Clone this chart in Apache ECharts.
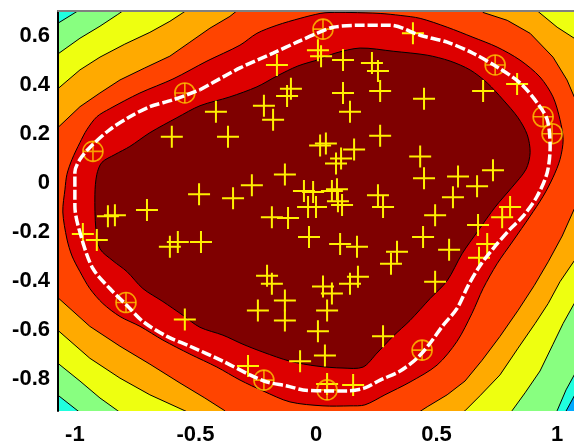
<!DOCTYPE html>
<html>
<head>
<meta charset="utf-8">
<script src="https://cdn.jsdelivr.net/npm/echarts@6/dist/echarts.min.js"></script>
<style>html,body{margin:0;padding:0;background:#fff}#c{width:574px;height:446px}</style>
</head>
<body>
<div id="c"></div>
<script>
// ---- tick labels ----
const xTicks = [-1, -0.5, 0, 0.5, 1];
const yTicks = [-0.8, -0.6, -0.4, -0.2, 0, 0.2, 0.4, 0.6];

// ---- filled contour levels (closed curves, outermost level first) ----
const contour7 = [[-1.3,0.9],[1.3,0.9],[1.3,-0.5],[1.104,-0.809],[1.004,-0.99],[1.0,-1.2],[-1.3,-1.2]];
const contour6 = [[-0.917,0.743],[-0.9,0.9],[1.3,0.9],[1.3,-0.6],[1.095,-0.731],[1.071,-0.783],[1.037,-0.844],[1.0,-0.929],[0.971,-0.99],[0.97,-1.2],[-0.9,-1.2],[-0.909,-0.99],[-1.145,-0.808],[-1.3,-0.8],[-1.3,0.6],[-1.145,0.605]];
const contour5 = [[-0.751,0.735],[-0.75,0.9],[1.3,0.9],[1.3,-0.4],[1.116,-0.411],[1.071,-0.492],[1.025,-0.573],[0.983,-0.658],[0.929,-0.767],[0.867,-0.856],[0.813,-0.929],[0.772,-0.99],[0.77,-1.2],[-0.76,-1.2],[-0.763,-0.974],[-0.822,-0.929],[-0.896,-0.877],[-0.979,-0.808],[-1.066,-0.739],[-1.145,-0.678],[-1.3,-0.67],[-1.3,0.47],[-1.145,0.472],[-1.066,0.528],[-0.979,0.589],[-0.896,0.638],[-0.822,0.686]];
const contour4 = [[-1.145,0.322],[-1.066,0.387],[-0.979,0.46],[-0.896,0.512],[-0.793,0.565],[-0.689,0.613],[-0.606,0.658],[-0.544,0.698],[-0.494,0.731],[0.888,0.731],[0.921,0.698],[1.0,0.634],[1.071,0.589],[1.137,0.549],[1.116,-0.257],[1.071,-0.318],[1.012,-0.403],[0.963,-0.492],[0.909,-0.573],[0.838,-0.674],[0.763,-0.783],[0.68,-0.868],[0.618,-0.929],[0.564,-0.978],[-0.481,-0.958],[-0.544,-0.929],[-0.689,-0.864],[-0.813,-0.796],[-0.938,-0.715],[-1.066,-0.605],[-1.145,-0.545]];
const contour3 = [[-1.145,0.156],[-1.066,0.229],[-0.979,0.31],[-0.896,0.366],[-0.813,0.419],[-0.71,0.468],[-0.606,0.516],[-0.523,0.573],[-0.44,0.63],[-0.357,0.678],[-0.295,0.727],[0.66,0.731],[0.693,0.694],[0.793,0.662],[0.888,0.609],[0.983,0.512],[1.041,0.419],[1.071,0.35],[1.116,0.277],[1.137,0.136],[1.116,-0.026],[1.071,-0.107],[1.021,-0.217],[0.963,-0.322],[0.905,-0.419],[0.838,-0.52],[0.763,-0.626],[0.689,-0.723],[0.618,-0.808],[0.544,-0.864],[0.461,-0.913],[0.39,-0.958],[-0.357,-0.966],[-0.378,-0.929],[-0.461,-0.877],[-0.564,-0.816],[-0.689,-0.739],[-0.813,-0.666],[-0.938,-0.585],[-1.066,-0.472],[-1.145,-0.403]];
const contour2 = [[-1.041,-0.026],[-1.05,-0.119],[-1.033,-0.229],[-1.012,-0.298],[-0.979,-0.362],[-0.938,-0.431],[-0.884,-0.492],[-0.813,-0.545],[-0.73,-0.585],[-0.635,-0.641],[-0.523,-0.698],[-0.411,-0.751],[-0.315,-0.804],[-0.22,-0.848],[-0.108,-0.893],[0.029,-0.909],[0.141,-0.909],[0.203,-0.905],[0.286,-0.864],[0.39,-0.812],[0.502,-0.743],[0.585,-0.646],[0.647,-0.532],[0.693,-0.431],[0.751,-0.33],[0.817,-0.237],[0.888,-0.136],[0.942,-0.055],[0.983,0.022],[1.012,0.095],[1.025,0.176],[1.012,0.257],[0.983,0.35],[0.929,0.431],[0.846,0.5],[0.751,0.553],[0.651,0.593],[0.544,0.634],[0.432,0.67],[0.349,0.682],[0.266,0.69],[0.141,0.694],[0.058,0.694],[0.017,0.69],[-0.066,0.67],[-0.162,0.642],[-0.245,0.609],[-0.315,0.561],[-0.452,0.496],[-0.593,0.423],[-0.73,0.366],[-0.855,0.302],[-0.909,0.269],[-0.95,0.217],[-0.979,0.164],[-1.012,0.095],[-1.033,0.034]];
const contour1 = [[-0.917,-0.047],[-0.909,0.034],[-0.888,0.083],[-0.834,0.115],[-0.772,0.148],[-0.689,0.204],[-0.577,0.265],[-0.481,0.314],[-0.357,0.35],[-0.245,0.391],[-0.162,0.435],[-0.075,0.476],[0.017,0.504],[0.079,0.528],[0.183,0.549],[0.32,0.536],[0.461,0.52],[0.556,0.496],[0.639,0.46],[0.71,0.407],[0.776,0.338],[0.838,0.265],[0.876,0.196],[0.888,0.123],[0.871,0.055],[0.813,-0.018],[0.743,-0.099],[0.672,-0.196],[0.606,-0.289],[0.544,-0.399],[0.473,-0.472],[0.39,-0.561],[0.32,-0.625],[0.253,-0.694],[0.195,-0.751],[0.112,-0.755],[0.004,-0.747],[-0.108,-0.727],[-0.22,-0.69],[-0.303,-0.658],[-0.386,-0.621],[-0.481,-0.589],[-0.552,-0.54],[-0.635,-0.484],[-0.718,-0.431],[-0.784,-0.362],[-0.842,-0.318],[-0.896,-0.269],[-0.913,-0.188]];

// ---- decision boundary (white dashed) ----
const boundary = [[-0.481,0.379],[-0.315,0.468],[-0.178,0.528],[-0.079,0.573],[0.004,0.609],[0.071,0.634],[0.195,0.642],[0.307,0.642],[0.432,0.601],[0.544,0.573],[0.651,0.528],[0.751,0.472],[0.846,0.407],[0.917,0.326],[0.959,0.257],[0.971,0.148],[0.959,0.042],[0.917,-0.055],[0.859,-0.136],[0.805,-0.189],[0.734,-0.269],[0.68,-0.338],[0.631,-0.419],[0.585,-0.512],[0.527,-0.581],[0.473,-0.654],[0.419,-0.715],[0.349,-0.767],[0.266,-0.804],[0.203,-0.836],[0.129,-0.848],[0.029,-0.848],[-0.054,-0.844],[-0.12,-0.828],[-0.203,-0.812],[-0.274,-0.783],[-0.386,-0.727],[-0.523,-0.666],[-0.618,-0.626],[-0.718,-0.565],[-0.784,-0.5],[-0.855,-0.431],[-0.925,-0.35],[-0.971,-0.229],[-1.0,-0.095],[-1.0,0.043],[-0.979,0.095],[-0.938,0.144],[-0.855,0.217],[-0.772,0.269],[-0.689,0.31],[-0.593,0.338]];

// ---- data points ----
const points = [[-0.162,0.48],[-0.104,0.383],[-0.12,0.354],[-0.216,0.314],[-0.178,0.257],[-0.415,0.289],[-0.598,0.188],[-0.365,0.188],[0.008,0.54],[0.021,0.516],[0.112,0.5],[0.232,0.488],[0.257,0.455],[0.402,0.609],[0.834,0.403],[0.693,0.374],[0.112,0.366],[0.266,0.374],[0.448,0.342],[0.141,0.289],[0.266,0.192],[0.017,0.152],[0.041,0.16],[0.158,0.136],[0.083,0.079],[0.104,0.099],[0.432,0.107],[0.448,0.018],[0.589,0.026],[0.734,0.051],[0.668,-0.014],[0.568,-0.059],[0.257,-0.051],[0.066,-0.034],[0.087,-0.026],[-0.012,-0.038],[-0.129,0.034],[-0.266,-0.01],[-0.05,-0.034],[-0.485,-0.047],[-0.344,-0.063],[-0.701,-0.111],[-0.863,-0.136],[-0.834,-0.132],[-0.183,-0.14],[-0.116,-0.144],[-0.033,-0.099],[0.0,-0.099],[-0.909,-0.233],[-0.967,-0.209],[-0.606,-0.261],[-0.573,-0.241],[-0.477,-0.241],[-0.029,-0.221],[-0.203,-0.379],[-0.183,-0.411],[-0.129,-0.48],[-0.241,-0.52],[-0.129,-0.561],[0.008,-0.605],[-0.544,-0.557],[-0.066,-0.727],[-0.282,-0.747],[0.091,-0.075],[0.108,-0.091],[0.278,-0.099],[0.494,-0.132],[0.672,-0.172],[0.805,-0.099],[0.772,-0.14],[0.1,-0.249],[0.17,-0.261],[0.336,-0.281],[0.311,-0.33],[0.444,-0.221],[0.552,-0.273],[0.71,-0.249],[0.676,-0.306],[0.141,-0.411],[0.174,-0.383],[0.029,-0.423],[0.066,-0.451],[0.046,-0.52],[0.494,-0.403],[0.278,-0.625],[0.037,-0.704],[0.154,-0.824],[0.046,-0.82]];
const supportVectors = [[0.029,0.626],[0.743,0.48],[0.942,0.269],[0.979,0.2],[-0.925,0.128],[-0.544,0.366],[-0.788,-0.488],[-0.216,-0.804],[0.046,-0.844],[0.44,-0.682]];

function levelSeries(pts, color, smooth) {
  return {
    type: 'custom', coordinateSystem: 'cartesian2d', clip: true, silent: true,
    data: [[0, 0]],
    renderItem: function (params, api) {
      return {
        type: 'polygon',
        shape: { points: pts.map(function (p) { return api.coord(p); }), smooth: smooth },
        style: { fill: color, stroke: '#000', lineWidth: 1 }
      };
    }
  };
}

const plusPath = 'path://M-1,-11L1,-11L1,-1L11,-1L11,1L1,1L1,11L-1,11L-1,1L-11,1L-11,-1L-1,-1Z';
const svPlusPath = 'path://M-0.8,-10L0.8,-10L0.8,-0.8L10,-0.8L10,0.8L0.8,0.8L0.8,10L-0.8,10L-0.8,0.8L-10,0.8L-10,-0.8L-0.8,-0.8Z';
const labelFont = { color: '#000', fontWeight: 'bold', fontFamily: 'Liberation Sans', fontSize: 22 };
function fmt(v) { const r = Math.round(v * 10) / 10; return r === 0 ? '0' : String(r); }

const chart = echarts.init(document.getElementById('c'), null, { renderer: 'canvas' });
chart.setOption({
  animation: false,
  grid: { left: 58, right: 0, top: 11, bottom: 32, show: true, backgroundColor: '#00aaff', borderWidth: 0 },
  xAxis: [{
    type: 'value', min: -1.07, max: 1.07, position: 'bottom', z: 10,
    axisLine: { show: false }, axisTick: { show: false }, splitLine: { show: false },
    axisLabel: Object.assign({ customValues: xTicks, margin: 13, formatter: fmt, showMinLabel: true, showMaxLabel: true }, labelFont)
  }, {
    type: 'value', min: -1.07, max: 1.07, position: 'top', z: 10,
    axisLine: { show: true, onZero: false, lineStyle: { color: '#808080', width: 2 } },
    axisTick: { show: false }, splitLine: { show: false }, axisLabel: { show: false }
  }],
  yAxis: {
    type: 'value', min: -0.93, max: 0.7, z: 10,
    axisLine: { show: true, onZero: false, lineStyle: { color: '#000', width: 2 } },
    axisTick: { show: false }, splitLine: { show: false },
    axisLabel: Object.assign({ customValues: yTicks, margin: 8, formatter: fmt }, labelFont)
  },
  series: [
    levelSeries(contour7, '#20ffdf', 0),
    levelSeries(contour6, '#88ff80', 0),
    levelSeries(contour5, '#eeff10', 0),
    levelSeries(contour4, '#ffaa00', 0),
    levelSeries(contour3, '#ff4400', 0),
    levelSeries(contour2, '#dd0000', 0.3),
    levelSeries(contour1, '#7f0000', 0.3),
    {
      type: 'line', data: boundary.concat([boundary[0]]), showSymbol: false, smooth: 0.3, silent: true,
      lineStyle: { color: '#ffffff', width: 3.5, type: [10, 3], cap: 'butt' }
    },
    {
      type: 'scatter', data: points, symbol: plusPath, symbolSize: 22, silent: true,
      itemStyle: { color: '#fff000', opacity: 1 }
    },
    {
      type: 'scatter', data: supportVectors, symbol: 'circle', symbolSize: 20, silent: true,
      itemStyle: { color: 'rgba(0,0,0,0)', borderColor: '#ffc800', borderWidth: 1.6 }
    },
    {
      type: 'scatter', data: supportVectors, symbol: svPlusPath, symbolSize: 20, silent: true,
      itemStyle: { color: '#ffc800' }
    }
  ]
});
</script>
</body>
</html>
